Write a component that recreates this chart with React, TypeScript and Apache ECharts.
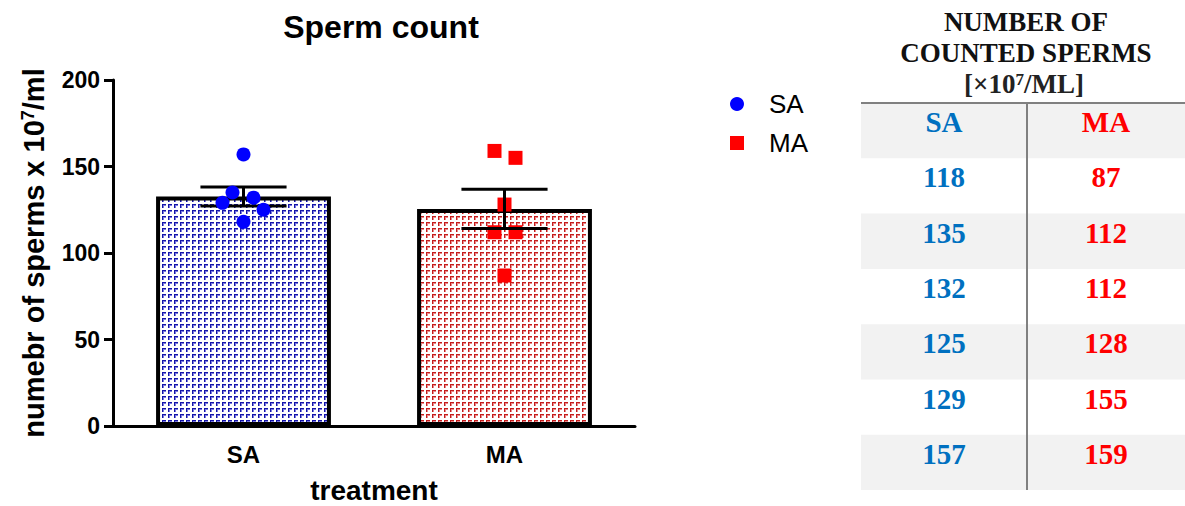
import React, { useEffect, useRef } from "react";
import * as echarts from "echarts";

// ---- data ----
const categories = ["SA", "MA"];
const saValues = [118, 135, 132, 125, 129, 157];
const maValues = [87, 112, 112, 128, 155, 159];
const yTicks = { min: 0, max: 200, interval: 50 };
const tableTitle = ["NUMBER OF", "COUNTED SPERMS"];
const tableUnit = ["[×10", "7", "/ML]"];

// ---- layout constants (px jitter of individual points, as in the reference) ----
const saJitterPx = [0, -11, 10, 20, -21, 0];
const maJitterPx = [0, -10, 11, 0, 11, -10];

const mean = (a: number[]) => a.reduce((s, v) => s + v, 0) / a.length;
const sem = (a: number[]) => {
  const m = mean(a);
  const v = a.reduce((s, x) => s + (x - m) * (x - m), 0) / (a.length - 1);
  return Math.sqrt(v) / Math.sqrt(a.length);
};

function makePattern(dark: string, light: string) {
  const c = document.createElement("canvas");
  c.width = 6;
  c.height = 6;
  const ctx = c.getContext("2d")!;
  ctx.fillStyle = "#ffffff";
  ctx.fillRect(0, 0, 6, 6);
  ctx.fillStyle = light;
  ctx.fillRect(0, 1, 4, 1);
  ctx.fillRect(1, 0, 1, 4);
  ctx.fillStyle = dark;
  ctx.fillRect(0, 0, 4, 1);
  ctx.fillRect(0, 0, 1, 4);
  return { image: c, repeat: "repeat", imageWidth: 6, imageHeight: 6 } as any;
}

export default function App() {
  const ref = useRef<HTMLDivElement>(null);
  useEffect(() => {
    if (!ref.current) return;
    const chart = echarts.init(ref.current, null, { renderer: "svg" });
    const groups = [saValues, maValues];
    const means = groups.map(mean);
    const sems = groups.map(sem);
    const gridLeft = 113;
    const gridRight = 635;
    const gridTop = 80;
    const gridBottom = 426;
    const band = (gridRight - gridLeft) / categories.length;

    const font = "Liberation Sans, Arial, sans-serif";
    const serif = "Liberation Serif, Times New Roman, serif";

    // table graphic
    const tLeft = 861;
    const tRight = 1185;
    const tDiv = 1027;
    const tTop = 103;
    const rowH = 55.3;
    const colSA = (tLeft + tDiv) / 2;
    const colMA = (tDiv + tRight) / 2;
    const graphic: any[] = [];
    const nRows = saValues.length + 1;
    for (let r = 0; r < nRows; r++) {
      if (r % 2 === 0) {
        graphic.push({
          type: "rect",
          shape: { x: tLeft, y: tTop + r * rowH, width: tRight - tLeft, height: rowH },
          style: { fill: "#f2f2f2" },
          silent: true,
        });
      }
    }
    graphic.push({
      type: "line",
      shape: { x1: tLeft, y1: tTop, x2: tRight, y2: tTop },
      style: { stroke: "#808080", lineWidth: 2 },
    });
    graphic.push({
      type: "line",
      shape: { x1: tDiv, y1: tTop, x2: tDiv, y2: tTop + nRows * rowH },
      style: { stroke: "#808080", lineWidth: 2 },
    });
    tableTitle.forEach((t, i) => {
      graphic.push({
        type: "text",
        x: (tLeft + tRight) / 2 + 3,
        y: 22 + i * 31,
        style: { text: t, fontSize: 27, fontWeight: "bold", fontFamily: serif, fill: "#111", align: "center", verticalAlign: "middle" },
      });
    });
    graphic.push({
      type: "text",
      x: (tLeft + tRight) / 2 + 1,
      y: 84,
      style: {
        text: `{a|${tableUnit[0]}}{s|${tableUnit[1]}}{a|${tableUnit[2]}}`,
        align: "center",
        verticalAlign: "middle",
        rich: {
          a: { fontSize: 27, fontWeight: "bold", fontFamily: serif, fill: "#222" },
          s: { fontSize: 17, fontWeight: "bold", fontFamily: serif, fill: "#222", verticalAlign: "top", padding: [0, 0, 10, 0] },
        },
      },
    });
    const cellText = (txt: string, x: number, y: number, color: string) => ({
      type: "text",
      x,
      y,
      style: { text: txt, fontSize: 29, fontWeight: "bold", fontFamily: serif, fill: color, align: "center", verticalAlign: "middle" },
    });
    graphic.push(cellText(categories[0], colSA, tTop + 19, "#0070c0"));
    graphic.push(cellText(categories[1], colMA, tTop + 19, "#ff0000"));
    saValues.forEach((v, i) => {
      graphic.push(cellText(String(v), colSA, tTop + (i + 1) * rowH + 19, "#0070c0"));
    });
    maValues.forEach((v, i) => {
      graphic.push(cellText(String(v), colMA, tTop + (i + 1) * rowH + 19, "#ff0000"));
    });

    const patterns = [makePattern("#1414a8", "#7a7ade"), makePattern("#c41c1c", "#e88a8a")];

    chart.setOption({
      animation: false,
      title: {
        text: "Sperm count",
        left: 376,
        top: 6,
        textAlign: "center",
        textStyle: { fontSize: 32, fontWeight: "bold", fontFamily: font, color: "#000" },
      },
      legend: {
        data: [
          { name: "SA", icon: "circle" },
          { name: "MA", icon: "rect" },
        ],
        orient: "vertical",
        left: 725,
        top: 86,
        itemWidth: 14,
        itemHeight: 14,
        itemGap: 13,
        textStyle: { fontSize: 26, fontFamily: font, color: "#000", lineHeight: 26, padding: [0, 0, 0, 20] },
      },
      grid: {
        left: gridLeft,
        width: gridRight - gridLeft,
        top: gridTop,
        height: gridBottom - gridTop,
        containLabel: false,
        outerBoundsMode: "none",
      },
      xAxis: [
        {
          type: "category",
          data: categories,
          name: "treatment",
          nameLocation: "middle",
          nameGap: 50,
          nameTextStyle: { fontSize: 28, fontWeight: "bold", fontFamily: font, color: "#000" },
          axisLine: { lineStyle: { color: "#000", width: 3 } },
          axisTick: { alignWithLabel: true, length: 7, lineStyle: { color: "#000", width: 3 } },
          axisLabel: { fontSize: 24, fontWeight: "bold", fontFamily: font, color: "#000", margin: 16 },
        },
        { type: "value", min: 0, max: categories.length, show: false },
      ],
      yAxis: {
        type: "value",
        min: yTicks.min,
        max: yTicks.max,
        interval: yTicks.interval,
        name: "{a|numebr of sperms x 10}{s|7}{a|/ml}",
        nameLocation: "middle",
        nameGap: 64,
        nameTextStyle: {
          rich: {
            a: { fontSize: 29, fontWeight: "bold", fontFamily: font, color: "#000" },
            s: { fontSize: 18, fontWeight: "bold", fontFamily: font, color: "#000", verticalAlign: "top", padding: [0, 0, 12, 0] },
          },
        },
        splitLine: { show: false },
        axisLine: { show: true, lineStyle: { color: "#000", width: 3 } },
        axisTick: { show: true, length: 9, lineStyle: { color: "#000", width: 3 } },
        axisLabel: { fontSize: 23, fontWeight: "bold", fontFamily: font, color: "#000", margin: 13 },
      },
      series: [
        {
          type: "bar",
          name: "mean",
          barWidth: "67%",
          data: means.map((m, i) => ({
            value: m,
            itemStyle: { color: patterns[i], borderColor: "#000", borderWidth: 4 },
          })),
          z: 2,
        },
        {
          type: "custom",
          name: "sem",
          data: means.map((m, i) => [i, m, sems[i]]),
          encode: { x: 0, y: 1 },
          z: 4,
          renderItem: (params: any, api: any) => {
            const x = api.value(0);
            const m = api.value(1);
            const s = api.value(2);
            const top = api.coord([x, m + s]);
            const bot = api.coord([x, m - s]);
            const half = api.size([1, 0])[0] * 0.165;
            const st = { stroke: "#000", lineWidth: 3 };
            return {
              type: "group",
              children: [
                { type: "line", shape: { x1: top[0] - half, y1: top[1], x2: top[0] + half, y2: top[1] }, style: st },
                { type: "line", shape: { x1: bot[0] - half, y1: bot[1], x2: bot[0] + half, y2: bot[1] }, style: st },
                { type: "line", shape: { x1: top[0], y1: top[1], x2: bot[0], y2: bot[1] }, style: st },
              ],
            };
          },
        },
        {
          type: "scatter",
          name: "SA",
          xAxisIndex: 1,
          symbol: "circle",
          symbolSize: 14,
          itemStyle: { color: "#0000ff", opacity: 1 },
          data: saValues.map((v, i) => [0.5 + saJitterPx[i] / band, v]),
          z: 5,
        },
        {
          type: "scatter",
          name: "MA",
          xAxisIndex: 1,
          symbol: "rect",
          symbolSize: 14,
          itemStyle: { color: "#ff0000", opacity: 1 },
          data: maValues.map((v, i) => [1.5 + maJitterPx[i] / band, v]),
          z: 3,
        },
      ],
      graphic,
    });
    return () => chart.dispose();
  }, []);
  return <div ref={ref} style={{ position: "fixed", left: 0, top: 0, width: 1185, height: 506, background: "#fff" }} />;
}
